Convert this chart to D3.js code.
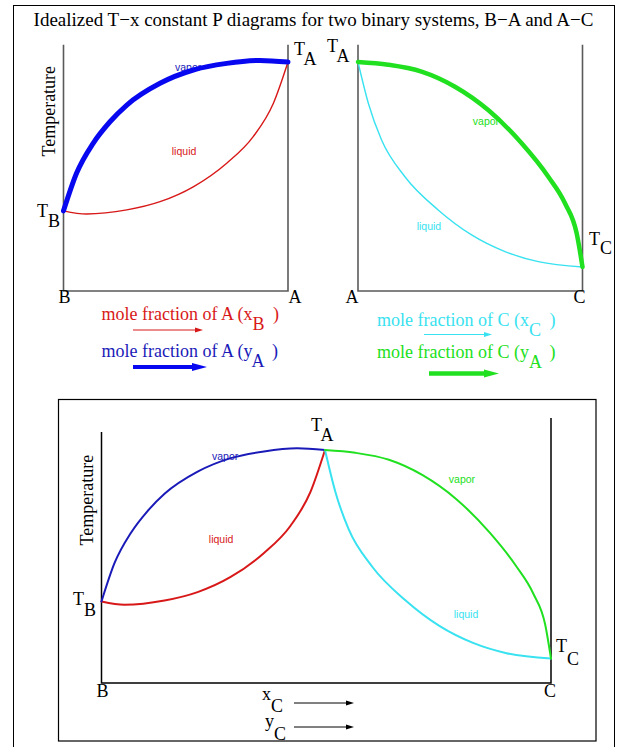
<!DOCTYPE html>
<html>
<head>
<meta charset="utf-8">
<script src="https://cdn.jsdelivr.net/npm/d3@7"></script>
<style>
  body { margin: 0; background: #fff; }
  svg text { font-family: "Liberation Serif", "Times New Roman", serif; }
  .small { font-family: "Liberation Sans", Arial, sans-serif; font-size: 10.5px; }
</style>
</head>
<body>
<div id="chart"></div>
<script>
// B-A system, composition = mole fraction of A (0 = pure B, 1 = pure A)
const vaporBA_x = [0, 0.058, 0.132, 0.207, 0.282, 0.43, 0.578, 0.727, 0.875, 1];
const vaporBA_T = [35, 51.4, 64.5, 73.9, 81.2, 90.7, 96.5, 99.4, 100.7, 100];
const liquidBA_x = [0, 0.103, 0.282, 0.43, 0.578, 0.727, 0.845, 0.935, 1];
const liquidBA_T = [35, 33.6, 35.4, 39.0, 45.5, 55.8, 67.4, 82.0, 100];

// A-C system, composition = mole fraction of C (0 = pure A, 1 = pure C)
const vaporAC_x = [0, 0.134, 0.283, 0.432, 0.58, 0.729, 0.847, 0.922, 0.974, 1];
const vaporAC_T = [100, 98.8, 95.8, 89.2, 79.0, 64.5, 50.0, 38.3, 25.2, 10.5];
const liquidAC_x = [0, 0.046, 0.105, 0.209, 0.357, 0.506, 0.655, 0.803, 1];
const liquidAC_T = [100, 82.0, 65.9, 49.9, 35.4, 24.5, 17.2, 12.8, 10.5];

const title = 'Idealized T\u2212x constant P diagrams for two binary systems, B\u2212A and A\u2212C';

const colors = { red: '#d81818', blue: '#0808f0', green: '#20e020', cyan: '#38e2f0', darkBlue: '#1a1ab8' };

const zip = (xs, ts) => xs.map((x, i) => ({ x, T: ts[i] }));

const W = 627, H = 747;
const svg = d3.create('svg').attr('width', W).attr('height', H);

// outer frame
svg.append('rect')
  .attr('x', 13.5).attr('y', 5.5).attr('width', 601).attr('height', 770)
  .attr('fill', 'none').attr('stroke', '#000').attr('stroke-width', 1);

svg.append('text')
  .attr('x', 313.5).attr('y', 26)
  .attr('text-anchor', 'middle')
  .attr('font-size', 19)
  .text(title);

function curve(g, x, y, data, color, width) {
  const line = d3.line()
    .x(d => x(d.x))
    .y(d => y(d.T))
    .curve(d3.curveMonotoneX);
  g.append('path')
    .attr('d', line(data))
    .attr('fill', 'none')
    .attr('stroke', color)
    .attr('stroke-width', width)
    .attr('stroke-linecap', 'round');
}

function label(g, x, y, px, T, txt, color) {
  g.append('text')
    .attr('class', 'small')
    .attr('x', x(px)).attr('y', y(T))
    .attr('text-anchor', 'middle')
    .attr('dominant-baseline', 'middle')
    .attr('fill', color)
    .text(txt);
}

// letter with subscript
function tsub(g, xx, yy, main, sub, size, drop, color) {
  const t = g.append('text')
    .attr('x', xx).attr('y', yy)
    .attr('font-size', size)
    .attr('fill', color || '#000');
  t.append('tspan').text(main);
  t.append('tspan').attr('dy', drop).text(sub);
  return t;
}

function arrow(g, x1, x2, yy, color, width, headLen, headHalf) {
  g.append('line')
    .attr('x1', x1).attr('x2', x2 - headLen + 1)
    .attr('y1', yy).attr('y2', yy)
    .attr('stroke', color).attr('stroke-width', width);
  g.append('path')
    .attr('d', `M${x2},${yy} L${x2 - headLen},${yy - headHalf} L${x2 - headLen},${yy + headHalf} Z`)
    .attr('fill', color);
}

// ---------- top panels ----------
const yTop = d3.scaleLinear().domain([0, 100]).range([291, 62]);
const xBA = d3.scaleLinear().domain([0, 1]).range([63.5, 288]);
const xAC = d3.scaleLinear().domain([0, 1]).range([358, 582.5]);
const topAxisMax = 107.5;

const topG = svg.append('g');

[xBA, xAC].forEach(x => {
  topG.append('path')
    .attr('d', `M${x(0)},${yTop(topAxisMax)} V${yTop(0)} H${x(1)} V${yTop(topAxisMax)}`)
    .attr('fill', 'none').attr('stroke', '#5a5a5a').attr('stroke-width', 1.6);
});

// labels drawn first so the thick curves overlap them
label(topG, xBA, yTop, 0.555, 97.4, 'vapor', colors.darkBlue);
label(topG, xBA, yTop, 0.537, 60.7, 'liquid', colors.red);
label(topG, xAC, yTop, 0.57, 73.5, 'vapor', colors.green);
label(topG, xAC, yTop, 0.316, 27.9, 'liquid', colors.cyan);

curve(topG, xBA, yTop, zip(liquidBA_x, liquidBA_T), colors.red, 1.4);
curve(topG, xBA, yTop, zip(vaporBA_x, vaporBA_T), colors.blue, 5);
curve(topG, xAC, yTop, zip(liquidAC_x, liquidAC_T), colors.cyan, 1.4);
curve(topG, xAC, yTop, zip(vaporAC_x, vaporAC_T), colors.green, 4.5);

tsub(topG, 294, 55, 'T', 'A', 18, 10);
tsub(topG, 327, 52, 'T', 'A', 18, 10);
tsub(topG, 37, 217, 'T', 'B', 18, 10);
tsub(topG, 589, 245, 'T', 'C', 18, 9);

[[xBA(0) + 1, 'B'], [xBA(1) + 7, 'A'], [xAC(0) - 6, 'A'], [xAC(1) - 3, 'C']].forEach(([px, s]) => {
  topG.append('text').attr('x', px).attr('y', 303).attr('text-anchor', 'middle').attr('font-size', 18).text(s);
});

topG.append('text')
  .attr('transform', `translate(55,${yTop(78.5)}) rotate(-90)`)
  .attr('text-anchor', 'middle')
  .attr('font-size', 18)
  .text('Temperature');

// legend rows under the top panels
function legendText(g, xx, yy, pre, sub, color, subDx) {
  const t = g.append('text').attr('x', xx).attr('y', yy).attr('font-size', 18).attr('fill', color);
  t.append('tspan').text(pre);
  t.append('tspan').attr('dy', 10).attr('dx', subDx).text(sub);
  t.append('tspan').attr('dy', -10).attr('dx', 4).text(' )');
}
legendText(topG, 101.5, 320, 'mole fraction of A (x', 'B', colors.red, 0);
legendText(topG, 101.5, 357, 'mole fraction of A (y', 'A', colors.darkBlue, -1);
legendText(topG, 377, 326, 'mole fraction of C (x', 'C', colors.cyan, 0);
legendText(topG, 377, 358, 'mole fraction of C (y', 'A', colors.green, 0);

arrow(topG, 133, 203, 330, colors.red, 1, 8, 2.5);
arrow(topG, 133, 207, 367, colors.blue, 4, 15, 4);
arrow(topG, 424, 492, 334.5, colors.cyan, 1, 8, 2.5);
arrow(topG, 429, 499, 373.5, colors.green, 4.5, 15, 4);

// ---------- bottom combined panel ----------
const bottomG = svg.append('g');
bottomG.append('rect')
  .attr('x', 58.5).attr('y', 399.5).attr('width', 537.5).attr('height', 341.5)
  .attr('fill', 'none').attr('stroke', '#000').attr('stroke-width', 1.2);

const yBot = d3.scaleLinear().domain([0, 100]).range([683, 450]);
const xLeft = d3.scaleLinear().domain([0, 1]).range([101.5, 325]);   // B -> A
const xRight = d3.scaleLinear().domain([0, 1]).range([325, 551]);    // A -> C

bottomG.append('path')
  .attr('d', `M${xLeft(0)},${yBot(107.7)} V${yBot(0)} H${xRight(1)} V${yBot(113.7)}`)
  .attr('fill', 'none').attr('stroke', '#000').attr('stroke-width', 1.5);

label(bottomG, xLeft, yBot, 0.553, 97.0, 'vapor', colors.darkBlue);
label(bottomG, xLeft, yBot, 0.535, 61.4, 'liquid', colors.red);
label(bottomG, xRight, yBot, 0.606, 87.1, 'vapor', colors.green);
label(bottomG, xRight, yBot, 0.624, 29.2, 'liquid', colors.cyan);

curve(bottomG, xLeft, yBot, zip(liquidBA_x, liquidBA_T), colors.red, 2);
curve(bottomG, xLeft, yBot, zip(vaporBA_x, vaporBA_T), colors.darkBlue, 2);
curve(bottomG, xRight, yBot, zip(liquidAC_x, liquidAC_T), colors.cyan, 2);
curve(bottomG, xRight, yBot, zip(vaporAC_x, vaporAC_T), colors.green, 2);

tsub(bottomG, 311, 431, 'T', 'A', 18, 10);
tsub(bottomG, 73, 605, 'T', 'B', 18, 11);
tsub(bottomG, 556, 652, 'T', 'C', 18, 13);

bottomG.append('text').attr('x', xLeft(0) + 1).attr('y', 697).attr('text-anchor', 'middle').attr('font-size', 18).text('B');
bottomG.append('text').attr('x', xRight(1) - 1).attr('y', 697).attr('text-anchor', 'middle').attr('font-size', 18).text('C');

bottomG.append('text')
  .attr('transform', `translate(93,${yBot(78.5)}) rotate(-90)`)
  .attr('text-anchor', 'middle')
  .attr('font-size', 18)
  .text('Temperature');

tsub(bottomG, 262, 700, 'x', 'C', 18, 12);
tsub(bottomG, 265, 727, 'y', 'C', 18, 13);
arrow(bottomG, 294, 354, 703, '#000', 1, 8, 2.5);
arrow(bottomG, 294, 354, 727, '#000', 1, 8, 2.5);

d3.select('#chart').node().appendChild(svg.node());
</script>
</body>
</html>
